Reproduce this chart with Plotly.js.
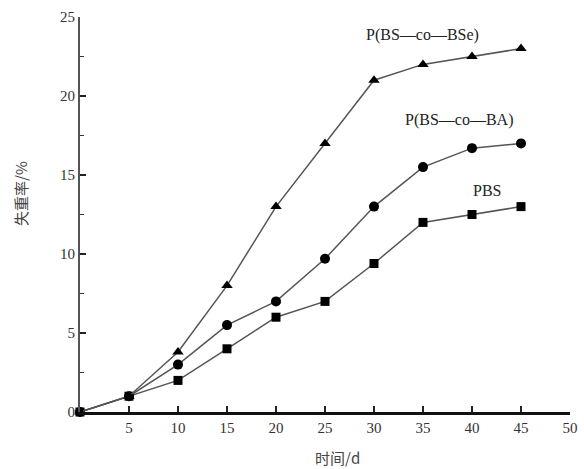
<!DOCTYPE html>
<html>
<head>
<meta charset="utf-8">
<script src="https://cdn.plot.ly/plotly-3.0.1.min.js"></script>
<style>html,body{margin:0;padding:0;background:#fff;}#chart{width:584px;height:469px;}</style>
</head>
<body>
<div id="chart"></div>
<script>
const days = [0, 5, 10, 15, 20, 25, 30, 35, 40, 45];
const pbs = [0, 1, 2, 4, 6, 7, 9.4, 12, 12.5, 13];
const pbsBA = [0, 1, 3, 5.5, 7, 9.7, 13, 15.5, 16.7, 17];
const pbsBSe = [0, 1, 3.8, 8, 13, 17, 21, 22, 22.5, 23];
const seriesNames = ["PBS", "P(BS—co—BA)", "P(BS—co—BSe)"];
const xTicks = [5, 10, 15, 20, 25, 30, 35, 40, 45, 50];
const yTicks = [0, 5, 10, 15, 20, 25];

const lineStyle = {color: '#555', width: 1.5};
const mk = (sym, s) => ({symbol: sym, size: s, color: '#000'});
const traces = [
  {x: days, y: pbs, name: seriesNames[0], mode: 'lines+markers', line: lineStyle, marker: mk('square', 9), cliponaxis: false},
  {x: days, y: pbsBA, name: seriesNames[1], mode: 'lines+markers', line: lineStyle, marker: mk('circle', 10), cliponaxis: false},
  {x: days, y: pbsBSe, name: seriesNames[2], mode: 'lines+markers', line: lineStyle, marker: mk('triangle-up', 10), cliponaxis: false}
];
const serif = 'Liberation Serif, Times New Roman, serif';
const cjk = 'Noto Sans CJK SC, sans-serif';
const layout = {
  width: 584, height: 469,
  margin: {l: 80, r: 14, t: 17, b: 57},
  paper_bgcolor: '#fff', plot_bgcolor: '#fff',
  showlegend: false,
  xaxis: {
    range: [0, 50], tickvals: xTicks, ticktext: xTicks.map(String),
    showgrid: false, zeroline: false, showline: true, linecolor: '#111', linewidth: 2.5,
    ticks: 'inside', ticklen: 6, tickwidth: 1.5, tickcolor: '#222',
    tickfont: {family: serif, size: 15, color: '#333'}
  },
  yaxis: {
    range: [0, 25], tickvals: yTicks, ticktext: yTicks.map(String),
    showgrid: false, zeroline: false, showline: true, linecolor: '#555', linewidth: 2,
    ticks: 'inside', ticklen: 6, tickwidth: 1.5, tickcolor: '#222',
    minor: {dtick: 2.5, ticks: 'inside', ticklen: 4, tickwidth: 1.5, tickcolor: '#333', showgrid: false},
    tickfont: {family: serif, size: 15, color: '#333'}
  },
  annotations: [
    {text: seriesNames[2], x: 422, y: 35, showarrow: false, font: {family: serif, size: 16, color: '#222'}},
    {text: seriesNames[1], x: 459, y: 120, showarrow: false, font: {family: serif, size: 16, color: '#222'}},
    {text: seriesNames[0], x: 487, y: 190, showarrow: false, font: {family: serif, size: 16, color: '#222'}},
    {text: '时间/d', x: 337, y: 457, showarrow: false, font: {family: cjk, size: 15, color: '#444'}},
    {text: '失重率/%', x: 21, y: 194, textangle: -90, showarrow: false, font: {family: cjk, size: 15, color: '#444'}}
  ]
};
// convert pixel positions to paper coordinates for annotations
const pw = 584 - 80 - 14, ph = 469 - 17 - 57;
layout.annotations.forEach(a => {
  a.xref = 'paper'; a.yref = 'paper';
  a.x = (a.x - 80) / pw; a.y = (469 - 57 - a.y) / ph;
  a.xanchor = 'center'; a.yanchor = 'middle';
});
Plotly.newPlot('chart', traces, layout, {displayModeBar: false, staticPlot: true});
</script>
</body>
</html>
